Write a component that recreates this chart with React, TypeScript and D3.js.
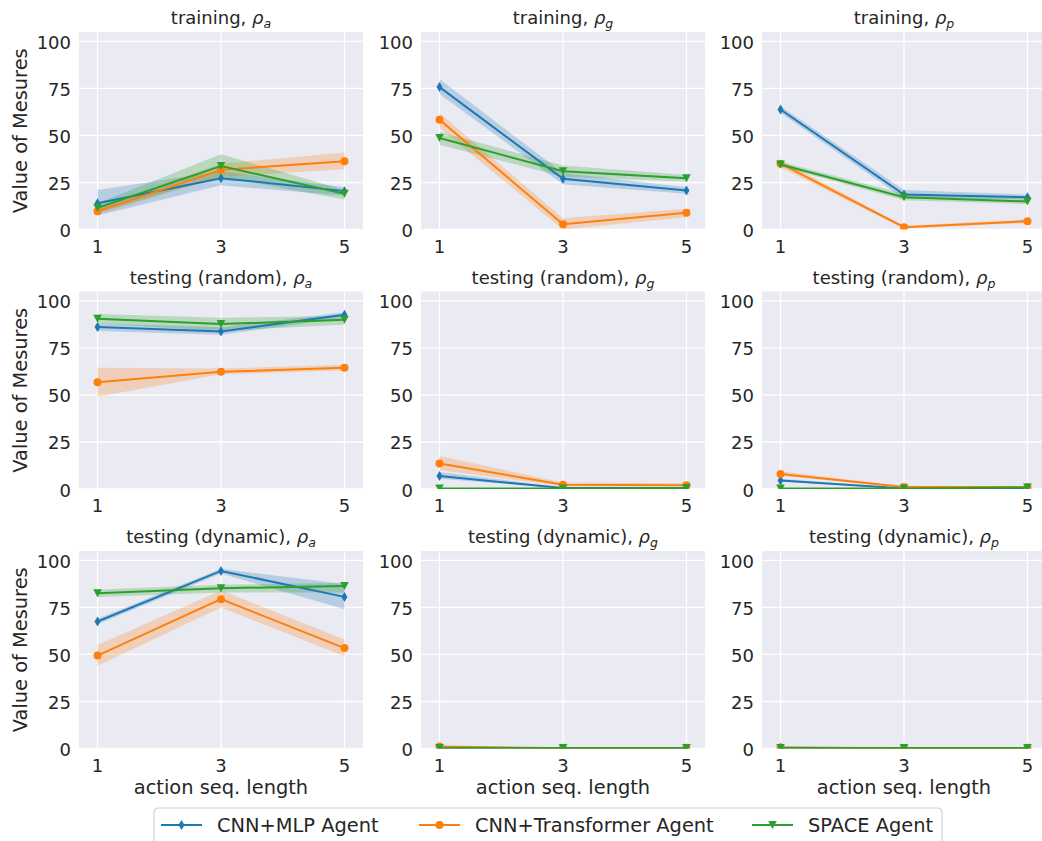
import React from 'react';
import * as d3 from 'd3';

const xs = [1, 3, 5];
const yTicks = [0, 25, 50, 75, 100];
const rowNames = ['training', 'testing (random)', 'testing (dynamic)'];
const measures = ['a', 'g', 'p'];
const agents = ['CNN+MLP Agent', 'CNN+Transformer Agent', 'SPACE Agent'];
const colors = ['#1f77b4', '#ff7f0e', '#2ca02c'];

// panels in row-major order: training a,g,p / random a,g,p / dynamic a,g,p
const mlpMean = [[14, 27.3, 20.4], [75.7, 27, 20.7], [63.8, 18.6, 17.2], [86.1, 83.7, 92.6], [6.9, 0.5, 0.5], [4.5, 0.3, 0.5], [67.5, 94.4, 80.6], [0.3, 0.1, 0.1], [0.4, 0.1, 0.1]];
const mlpLo = [[7.5, 23.5, 18], [72, 24, 19], [62, 16.5, 16], [84, 82, 91], [5.5, 0.2, 0.2], [4, 0.1, 0.2], [66, 93, 74], [0.1, 0, 0], [0.2, 0, 0]];
const mlpHi = [[21, 31, 22.5], [80, 30, 22.5], [65.5, 21, 18.5], [88, 86, 94], [9, 0.8, 0.8], [5.5, 0.5, 0.8], [69, 95.5, 87.5], [0.5, 0.2, 0.2], [0.6, 0.2, 0.2]];

const trfMean = [[9.7, 31.7, 36.3], [58.3, 2.8, 8.9], [35, 1.2, 4.4], [56.7, 62.3, 64.4], [13.6, 2.3, 2.0], [8, 1, 1], [49.4, 79.4, 53.4], [1, 0.1, 0.1], [0.5, 0.1, 0.1]];
const trfLo = [[8, 28, 32], [54, 0, 6.5], [33, 0.5, 3.5], [49, 61, 63], [10, 1.5, 1.5], [7, 0.6, 0.6], [44, 75, 49], [0.6, 0, 0], [0.3, 0, 0]];
const trfHi = [[12, 35, 41], [62, 6, 11], [37, 2, 5.5], [64.5, 64, 66], [17.5, 3.5, 3], [9.5, 1.4, 1.4], [55, 84, 58], [1.4, 0.2, 0.2], [0.7, 0.2, 0.2]];

const spaceMean = [[11.5, 33.7, 19], [48.6, 31, 27.3], [34.6, 17.2, 14.9], [90.5, 87.7, 90], [0.2, 0.3, 0.5], [0.2, 0.3, 0.8], [82.5, 85.2, 86.4], [0.3, 0.2, 0.2], [0.3, 0.2, 0.2]];
const spaceLo = [[9, 28, 16], [45, 28, 25.5], [33.5, 15.5, 13.5], [88, 84, 87.5], [0.1, 0.2, 0.3], [0.1, 0.2, 0.5], [80.5, 83, 83], [0.2, 0.1, 0.1], [0.2, 0.1, 0.1]];
const spaceHi = [[14, 40, 21], [52, 34, 29], [36, 19, 16.5], [93, 91, 92], [0.3, 0.4, 0.7], [0.3, 0.4, 1.1], [84.5, 87, 88], [0.4, 0.3, 0.3], [0.4, 0.3, 0.3]];

const means = [mlpMean, trfMean, spaceMean];
const los = [mlpLo, trfLo, spaceLo];
const his = [mlpHi, trfHi, spaceHi];

const W = 1042, H = 841;
const colLeft = [79, 421, 762];
const rowTop = [32, 291.5, 551];
const pw = 284, ph = 197.5;
const txt = '#262626';
const font = 'DejaVu Sans';

function Marker({ k, x, y, c }: { k: number; x: number; y: number; c: string }) {
  if (k === 0) return <path d={`M${x},${y - 5}L${x + 3},${y}L${x},${y + 5}L${x - 3},${y}Z`} fill={c} />;
  if (k === 1) return <circle cx={x} cy={y} r={4} fill={c} />;
  return <path d={`M${x - 4.3},${y - 4}L${x + 4.3},${y - 4}L${x},${y + 4}Z`} fill={c} />;
}

function Panel({ idx }: { idx: number }) {
  const r = Math.floor(idx / 3), c = idx % 3;
  const left = colLeft[c], top = rowTop[r];
  const x = d3.scaleLinear().domain([0.7, 5.3]).range([left, left + pw]);
  const y = d3.scaleLinear().domain([0, 105]).range([top + ph, top]);
  const line = d3.line<number>().x((_, i) => x(xs[i])).y(v => y(v));
  const clip = `clip${idx}`;
  return (
    <g>
      <defs>
        <clipPath id={clip}><rect x={left} y={top} width={pw} height={ph} /></clipPath>
      </defs>
      <rect x={left} y={top} width={pw} height={ph} fill="#eaeaf2" />
      {yTicks.map(t => (
        <line key={'gy' + t} x1={left} x2={left + pw} y1={y(t)} y2={y(t)} stroke="#fff" strokeWidth={1.3} />
      ))}
      {xs.map(t => (
        <line key={'gx' + t} x1={x(t)} x2={x(t)} y1={top} y2={top + ph} stroke="#fff" strokeWidth={1.3} />
      ))}
      <g clipPath={`url(#${clip})`}>
        {means.map((m, k) => {
          const area = d3.area<number>()
            .x((_, i) => x(xs[i]))
            .y0((_, i) => y(los[k][idx][i]))
            .y1((_, i) => y(his[k][idx][i]));
          return <path key={'a' + k} d={area(m[idx]) || ''} fill={colors[k]} fillOpacity={0.25} />;
        })}
        {means.map((m, k) => (
          <g key={'l' + k}>
            <path d={line(m[idx]) || ''} fill="none" stroke={colors[k]} strokeWidth={2} />
            {m[idx].map((v, i) => <Marker key={i} k={k} x={x(xs[i])} y={y(v)} c={colors[k]} />)}
          </g>
        ))}
      </g>
      {yTicks.map(t => (
        <text key={'ty' + t} x={left - 8} y={y(t) + 7.5} textAnchor="end" fontSize={18} fill={txt} fontFamily={font}>{t}</text>
      ))}
      {xs.map(t => (
        <text key={'tx' + t} x={x(t)} y={top + ph + 23} textAnchor="middle" fontSize={18} fill={txt} fontFamily={font}>{t}</text>
      ))}
      <text x={left + pw / 2} y={top - 8} textAnchor="middle" fontSize={18} fill={txt} fontFamily={font}>
        {rowNames[r] + ', '}
        <tspan fontStyle="italic">ρ</tspan>
        <tspan fontStyle="italic" fontSize={12.5} dy={4}>{measures[c]}</tspan>
      </text>
      {c === 0 && (
        <text transform={`translate(27,${top + ph / 2}) rotate(-90)`} textAnchor="middle" fontSize={19.4} fill={txt} fontFamily={font}>Value of Mesures</text>
      )}
      {r === 2 && (
        <text x={left + pw / 2} y={top + ph + 45} textAnchor="middle" fontSize={19.4} fill={txt} fontFamily={font}>action seq. length</text>
      )}
    </g>
  );
}

const legendLineX = [161, 419, 752];

export default function App() {
  return (
    <svg width={W} height={H} style={{ position: 'absolute', left: 0, top: 0, background: '#fff' }}>
      <rect x={0} y={0} width={W} height={H} fill="#fff" />
      {d3.range(9).map(i => <Panel key={i} idx={i} />)}
      <rect x={154} y={808} width={788} height={50} rx={4} fill="#fff" stroke="#cccccc" strokeWidth={1} />
      {agents.map((a, k) => {
        const lx = legendLineX[k];
        return (
          <g key={a}>
            <line x1={lx} x2={lx + 41} y1={825} y2={825} stroke={colors[k]} strokeWidth={2} />
            <Marker k={k} x={lx + 20.5} y={825} c={colors[k]} />
            <text x={lx + 56} y={831.5} fontSize={19.4} fill={txt} fontFamily={font}>{a}</text>
          </g>
        );
      })}
    </svg>
  );
}
